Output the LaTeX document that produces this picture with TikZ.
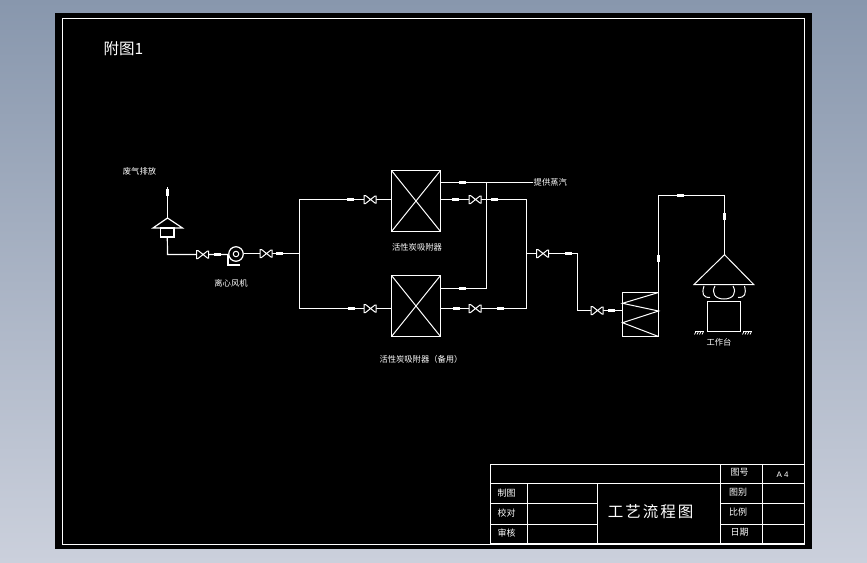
\documentclass[tikz,border=0pt]{standalone}
\usepackage{fontspec}
\newfontfamily\cjk{Noto Sans CJK SC}
\newfontfamily\latn{Liberation Sans}
\definecolor{bgtop}{RGB}{136,151,173}
\definecolor{bgbot}{RGB}{203,208,220}
\tikzset{
  pipe/.style={draw=white,line width=1.2pt},
  thin pipe/.style={draw=white,line width=1pt},
  vessel/.style={draw=white,line width=1.2pt,fill=black,inner sep=0pt,outer sep=0pt,rectangle},
  lab/.style={text=white,inner sep=0pt,font=\cjk\fontsize{8.3}{8.3}\selectfont},
  tlab/.style={text=white,inner sep=0pt,font=\cjk\fontsize{9}{9}\selectfont},
  valve/.pic={
    \draw[white,line width=1pt,fill=black] (-6,-4)--(-6,4)--(-4.5,4)--(5,-3.5)--(6,-3.5)--(6,3.5)--(5,3.5)--(-4.5,-4)--cycle;
  },
  markh/.pic={\fill[white] (-3.5,-1.7) rectangle (3.5,1.7);},
  markv/.pic={\fill[white] (-1.7,-3.5) rectangle (1.7,3.5);}
}
\begin{document}
\begin{tikzpicture}[x=1pt,y=-1pt]
\useasboundingbox (0,0) rectangle (867,562);
\shade[top color=bgtop,bottom color=bgbot] (0,0) rectangle (867,562);
\fill[black] (55,13) rectangle (812,549);
\draw[pipe] (62.5,18.5) rectangle (804.5,544.5);

\node[lab,font=\cjk\fontsize{15.5}{16}\selectfont] (fig) at (123.5,49) {附图1};

% exhaust hood
\coordinate (stacktop) at (167.5,187);
\coordinate (apex) at (167.5,218);
\coordinate (hl) at (153,228);
\coordinate (hr) at (182.5,228);
\node[vessel,minimum width=13.5pt,minimum height=9pt] (hoodbox) at (167.3,232.5) {};
\draw[pipe] (stacktop) -- (apex);
\draw[pipe] (apex) -- (hr) -- (hl) -- cycle;
\pic at (167.5,192) {markv};
\coordinate (c1) at (167.5,254.5);
\node[circle,draw=white,line width=1.2pt,minimum size=14.5pt,inner sep=0pt] (fan) at (236,254) {};
\node[circle,draw=white,line width=1pt,minimum size=5.5pt,inner sep=0pt] (fanhub) at (236,254) {};
\draw[pipe] (hoodbox.south) -- (c1) -- (fan.west |- c1);
\draw[pipe] (228,255) -- (228,265) -- (240,265);
\coordinate (split) at (299.5,253.5);
\draw[pipe] (fan.east |- split) -- (split);
\pic at (202.5,254.5) {valve};
\pic at (217.5,254.5) {markh};
\pic at (266,253.5) {valve};
\pic at (279.5,253.5) {markh};

% adsorbers
\node[vessel,minimum width=49pt,minimum height=61pt] (A) at (416,201) {};
\node[vessel,minimum width=49pt,minimum height=61pt] (B) at (416,306) {};
\draw[thin pipe] (A.north west) -- (A.south east) (A.north east) -- (A.south west);
\draw[thin pipe] (B.north west) -- (B.south east) (B.north east) -- (B.south west);

\coordinate (aIn) at (A.west |- 0,199.5);
\coordinate (bIn) at (B.west |- 0,308.5);
\draw[pipe] (aIn) -- (299.5,199.5) -- (299.5,308.5) -- (bIn);
\pic at (370,199.5) {valve};
\pic at (350.5,199.5) {markh};
\pic at (370,308.5) {valve};
\pic at (351.5,308.5) {markh};

% steam line
\coordinate (steam) at (533,182.5);
\draw[pipe] (A.east |- steam) -- (steam);
\draw[pipe] (486.5,182.5) -- (486.5,288.5) -- (B.east |- 0,288.5);
\pic at (462.5,182.5) {markh};
\pic at (462,288.5) {markh};

% outlet lines
\coordinate (aOut) at (A.east |- 0,199.5);
\coordinate (bOut) at (B.east |- 0,308.5);
\coordinate (mTop) at (526.5,199.5);
\coordinate (mBot) at (526.5,308.5);
\draw[pipe] (aOut) -- (mTop) -- (mBot) -- (bOut);
\pic at (475,199.5) {valve};
\pic at (455.5,199.5) {markh};
\pic at (494,199.5) {markh};
\pic at (475,308.5) {valve};
\pic at (456.5,308.5) {markh};
\pic at (500.5,308.5) {markh};

% cooler
\node[vessel,minimum width=36pt,minimum height=44pt] (C) at (640.5,314.5) {};
\draw[pipe] (526.5,253.5) -- (577.5,253.5) -- (577.5,310.5) -- (C.west |- 0,310.5);
\pic at (542.5,253.5) {valve};
\pic at (568.5,253.5) {markh};
\pic at (597,310.5) {valve};
\pic at (611.5,310.5) {markh};
\draw[thin pipe] (C.north east) -- (C.west |- 0,303.3) -- (C.east |- 0,311) -- (C.west |- 0,322.7) -- (C.south east);

% workstation
\coordinate (wApex) at (724.5,254.7);
\draw[thin pipe] (wApex) -- (694,284.5) -- (753.7,284.5) -- cycle;
\draw[pipe] (C.north east) -- (658.5,195.5) -- (724.5,195.5) -- (wApex);
\pic at (658.5,258.5) {markv};
\pic at (680,195.5) {markh};
\pic at (724.5,216.5) {markv};
\node[vessel,minimum width=33pt,minimum height=30pt] (W) at (724,316.5) {};
\draw[thin pipe] (704,286) .. controls (701.5,294) and (703,297.5) .. (710,297.5);
\draw[thin pipe] (715,286) .. controls (711,293) and (715,299) .. (724,299) .. controls (733,299) and (737,293) .. (733,286);
\draw[thin pipe] (744.5,286) .. controls (746.5,294) and (745,297.5) .. (738,297.5);
\foreach \gx in {695,743}{
  \draw[thin pipe] (\gx,331.5) -- ++(9,0);
  \foreach \hx in {1,3.5,6,8.5}{\draw[white,line width=0.7pt] (\gx+\hx,331.5) -- ++(-1.5,3);}
}

% labels
\node[lab] (l1) at (139.5,171.5) {废气排放};
\node[lab] (l2) at (231,283.5) {离心风机};
\node[lab] (l3) at (417,247.7) {活性炭吸附器};
\node[lab] (l4) at (421,359) {活性炭吸附器（备用）};
\node[lab,anchor=west] (l5) at (533.5,182) {提供蒸汽};
\node[lab] (l6) at (719,342.7) {工作台};

% title block
\draw[pipe] (490.5,464.5) rectangle (804.5,543.5);
\draw[pipe] (490.5,483.5) -- (804.5,483.5);
\draw[pipe] (490.5,503.5) -- (597.5,503.5) (720.5,503.5) -- (804.5,503.5);
\draw[pipe] (490.5,524.5) -- (597.5,524.5) (720.5,524.5) -- (804.5,524.5);
\draw[pipe] (527.5,483.5) -- (527.5,543.5) (597.5,483.5) -- (597.5,543.5);
\draw[pipe] (720.5,464.5) -- (720.5,543.5) (762.5,464.5) -- (762.5,543.5);
\node[tlab] (t1) at (506.5,493.3) {制图};
\node[tlab] (t2) at (506.5,512.7) {校对};
\node[tlab] (t3) at (506.5,532.7) {审核};
\node[tlab] (t4) at (739.5,472.7) {图号};
\node[tlab] (t5) at (738,492) {图别};
\node[tlab] (t6) at (738,512) {比例};
\node[tlab] (t7) at (739.5,532) {日期};
\node[text=white,inner sep=0pt,font=\latn\fontsize{8}{8}\selectfont] (t8) at (782.5,475) {A 4};
\node[lab,font=\cjk\fontsize{15.5}{15}\selectfont] (t9) at (650.5,511.7) {工\hspace{2pt}艺\hspace{2pt}流\hspace{2pt}程\hspace{2pt}图};
\end{tikzpicture}
\end{document}
